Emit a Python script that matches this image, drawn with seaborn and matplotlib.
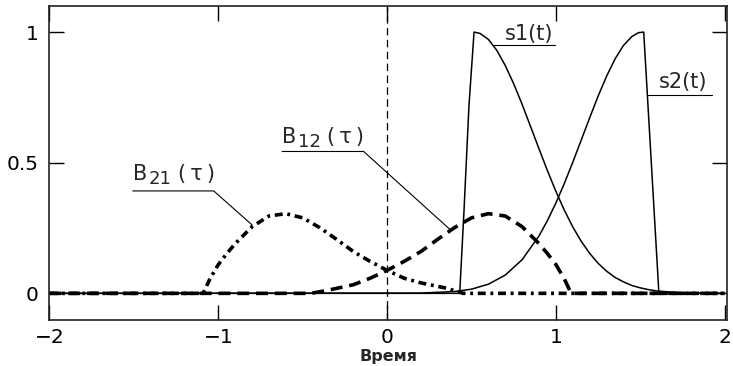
import matplotlib
matplotlib.use("Agg")
import matplotlib.pyplot as plt
import seaborn as sns

# values
s1_t = [-2.0, 0.43, 0.455, 0.485, 0.515, 0.55, 0.60, 0.65, 0.70, 0.75, 0.80, 0.85, 0.90, 0.95, 1.00,
        1.05, 1.10, 1.15, 1.20, 1.25, 1.30, 1.35, 1.40, 1.45, 1.50, 1.55, 1.60, 1.70, 1.80, 2.0]
s1_v = [0, 0, 0.31, 0.72, 1.0, 0.995, 0.972, 0.930, 0.872, 0.802, 0.723, 0.638, 0.553, 0.469, 0.390,
        0.318, 0.254, 0.199, 0.153, 0.115, 0.085, 0.061, 0.044, 0.030, 0.021, 0.014, 0.009, 0.004, 0.001, 0]

s2_t = [-2.0, 0.2, 0.4, 0.5, 0.6, 0.7, 0.8, 0.9, 0.95, 1.0, 1.05, 1.1, 1.15, 1.2, 1.25,
        1.3, 1.35, 1.4, 1.45, 1.49, 1.52, 1.61, 2.0]
s2_v = [0, 0.001, 0.007, 0.016, 0.035, 0.070, 0.129, 0.220, 0.279, 0.346, 0.421, 0.502, 0.587, 0.672, 0.755,
        0.831, 0.897, 0.949, 0.983, 0.998, 1.0, 0, 0]

b12_t = [-2.0, -0.45, -0.35, -0.2, -0.1, 0.0, 0.1, 0.2, 0.3, 0.4, 0.5, 0.6, 0.7, 0.8, 0.9,
         0.95, 1.0, 1.05, 1.09, 2.0]
b12_v = [0, 0, 0.012, 0.033, 0.058, 0.088, 0.122, 0.160, 0.207, 0.252, 0.289, 0.305, 0.296, 0.255, 0.190,
         0.152, 0.110, 0.055, 0.0, 0]

b21_t = [-2.0, -1.09, -1.05, -1.0, -0.95, -0.9, -0.8, -0.7, -0.6, -0.5, -0.4, -0.3, -0.2, -0.1, 0.0,
         0.1, 0.2, 0.35, 0.45, 2.0]
b21_v = [0, 0, 0.055, 0.110, 0.152, 0.190, 0.255, 0.296, 0.305, 0.289, 0.252, 0.207, 0.160, 0.122, 0.088,
         0.058, 0.040, 0.020, 0, 0]

x_ticks = [-2, -1, 0, 1, 2]
x_labels = ["\u22122", "\u22121", "0", "1", "2"]
y_ticks = [0, 0.5, 1]
y_labels = ["0", "0.5", "1"]

sns.set_style("ticks")
plt.rcParams["font.family"] = ["DejaVu Sans"]

fig = plt.figure(figsize=(7.33, 3.66), dpi=100)
ax = fig.add_axes([0.0675, 0.1257, 0.924, 0.858])

ax.axvline(0, color="black", lw=0.9, ls=(0, (6, 3.5)), zorder=1)

sns.lineplot(x=b21_t, y=b21_v, ax=ax, estimator=None, color="black", linewidth=2.6,
             linestyle=(0, (2.2, 1.3, 0.8, 1.3)))
sns.lineplot(x=b12_t, y=b12_v, ax=ax, estimator=None, color="black", linewidth=2.6,
             linestyle=(0, (3.3, 1.9)))
sns.lineplot(x=s1_t, y=s1_v, ax=ax, estimator=None, color="black", linewidth=1.1)
sns.lineplot(x=s2_t, y=s2_v, ax=ax, estimator=None, color="black", linewidth=1.1)

ax.set_xlim(-2, 2.012)
ax.set_ylim(-0.102, 1.1)
ax.set_xticks(x_ticks)
ax.set_yticks(y_ticks)
ax.set_xticklabels(x_labels)
ax.set_yticklabels(y_labels)
ax.tick_params(axis="both", direction="in", length=11, width=1.0, colors="black",
               labelsize=14.5, top=True, right=True)
ax.tick_params(axis="x", pad=5.5)
ax.tick_params(axis="y", pad=8)
for sp in ax.spines.values():
    sp.set_visible(True)
    sp.set_linewidth(1.2)
    sp.set_color("#222222")

ax.set_xlabel("Время", fontsize=11.5, fontweight="bold", labelpad=2)
ax.set_ylabel("")

lw_lab = 0.8
fs_lab = 15


def b_label(x, y, sub):
    # "B", lowered subscript, "(τ)" as separate pieces, offsets in pixels
    ax.text(x, y, "B", fontsize=fs_lab, va="baseline", ha="left")
    ax.annotate(sub, (x, y), xytext=(16, -4), textcoords="offset pixels",
                fontsize=13, va="baseline", ha="left")
    ax.annotate("(\u2009τ\u2009)", (x, y), xytext=(45, 0), textcoords="offset pixels",
                fontsize=fs_lab, va="baseline", ha="left")


# labels with underline + leader line
ax.text(0.70, 0.97, "s1(t)", fontsize=fs_lab, va="baseline", ha="left")
ax.plot([0.63, 0.997], [0.951, 0.951], color="black", lw=lw_lab)

ax.text(1.607, 0.785, "s2(t)", fontsize=fs_lab, va="baseline", ha="left")
ax.plot([1.545, 1.927], [0.76, 0.76], color="black", lw=lw_lab)

b_label(-0.622, 0.575, "12")
ax.plot([-0.622, -0.139, 0.375], [0.543, 0.543, 0.243], color="black", lw=lw_lab)

b_label(-1.505, 0.434, "21")
ax.plot([-1.507, -1.027, -0.80], [0.392, 0.392, 0.262], color="black", lw=lw_lab)

fig.savefig("out.png", dpi=100)
